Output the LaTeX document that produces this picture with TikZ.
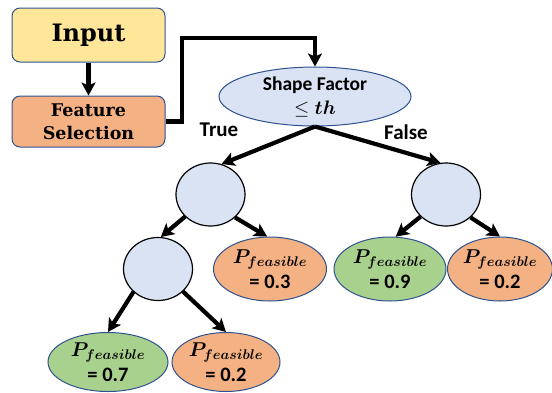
\RequirePackage{fix-cm}
\documentclass[tikz,border=0pt]{standalone}
\usepackage{bm}
\usepackage{fontspec}
\setmainfont{Carlito}
\newfontfamily\slabfont{DejaVu Serif}
\usetikzlibrary{arrows.meta,shapes.geometric}

\definecolor{inyellow}{HTML}{FFE699}
\definecolor{featorange}{HTML}{F4B183}
\definecolor{nodeblue}{HTML}{DAE3F3}
\definecolor{leafgreen}{HTML}{A9D18E}
\definecolor{edgeblue}{HTML}{2F528F}

\newcommand{\pfeas}[1]{$\bm{P_{feasible}}$\\[-1pt]{\fontsize{20.5}{26}\selectfont #1}}

\begin{document}
\begin{tikzpicture}[x=1pt,y=-1pt,
  link/.style={line width=4.2pt,-{Stealth[length=13pt,width=14pt,inset=3pt]}},
  stepbox/.style={draw=edgeblue,line width=1pt,rounded corners=8pt,
    minimum width=153pt,align=center,inner sep=0pt},
  splitnode/.style={ellipse,draw=black,fill=nodeblue,line width=1.2pt,
    minimum width=69pt,minimum height=63pt,inner sep=0pt},
  leaf/.style={ellipse,draw=edgeblue,line width=1pt,align=center,inner sep=0pt,
    font=\bfseries\fontsize{20}{26}\selectfont},
  branchlabel/.style={font=\bfseries\fontsize{21}{24}\selectfont}]
\useasboundingbox (0,0) rectangle (552,392);

% pipeline boxes
\node[stepbox,fill=inyellow,minimum height=54pt,
  font=\slabfont\bfseries\fontsize{24}{26}\selectfont] (input) at (88.5,35) {Input};
\node[stepbox,fill=featorange,minimum height=51pt,
  font=\slabfont\bfseries\fontsize{17.5}{23}\selectfont] (feat) at (88.5,121.5) {Feature\\Selection};

% root test
\node[ellipse,draw=edgeblue,fill=nodeblue,line width=1pt,minimum width=192pt,
  minimum height=59pt,inner sep=0pt,align=center,
  font=\bfseries\fontsize{19.5}{24}\selectfont] (sf) at (315,96.5)
  {Shape Factor\\$\leq \bm{th}$};

% inner split nodes
\node[splitnode] (c1) at (210.5,194.5) {};
\node[splitnode] (c2) at (446,194.5) {};
\node[splitnode] (c3) at (158,269) {};

% leaves
\node[leaf,fill=featorange,minimum width=113pt,minimum height=64pt] (l1) at (270,269) {\pfeas{= 0.3}};
\node[leaf,fill=leafgreen,minimum width=112pt,minimum height=64pt] (l2) at (390,269) {\pfeas{= 0.9}};
\node[leaf,fill=featorange,minimum width=101pt,minimum height=64pt] (l3) at (500,269) {\pfeas{= 0.2}};
\node[leaf,fill=leafgreen,minimum width=120pt,minimum height=59pt] (l4) at (108,362) {\pfeas{= 0.7}};
\node[leaf,fill=featorange,minimum width=108pt,minimum height=59pt] (l5) at (226,362) {\pfeas{= 0.2}};

% branch labels
\node[branchlabel] (tlab) at (219,130) {True};
\node[branchlabel] (flab) at (406,132) {False};

% connectors
\coordinate (bend) at (182,38);
\draw[link] (input) -- (feat);
\draw[link] (feat.east) -| (bend) -| (sf.north);
\draw[link] (sf.south) -- (c1.70);
\draw[link] (sf.south) -- (c2.100);
\draw[link] (c1.-139) -- (c3.85);
\draw[link] (c1.-43) -- (l1.95);
\draw[link] (c2.-139) -- (l2.80);
\draw[link] (c2.-43) -- (l3.north);
\draw[link] (c3.-137) -- (l4.north);
\draw[link] (c3.-42) -- (l5.north);
\end{tikzpicture}
\end{document}
